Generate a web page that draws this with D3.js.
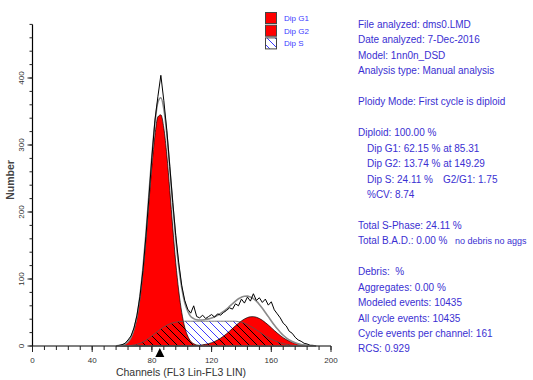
<!DOCTYPE html>
<html>
<head>
<meta charset="utf-8">
<script src="https://cdn.jsdelivr.net/npm/d3@7"></script>
<style>
body { margin: 0; background: #fff; }
svg text { font-family: "Liberation Sans", Arial, sans-serif; white-space: pre; }
</style>
</head>
<body>
<div id="chart"></div>
<script>
// channel grid (every 2 channels)
const channels = d3.range(56, 191, 2);

// Dip G1 component
const dipG1 = [0.2, 0.5, 1.1, 2.6, 5.9, 12, 24, 42, 71, 110, 159, 215, 269, 314, 342, 345, 325, 285, 232, 176,
  124, 82, 50, 28, 15, 7, 3.4, 1.5, 0.6, 0.2, 0, 0, 0, 0, 0, 0, 0, 0, 0, 0,
  0, 0, 0, 0, 0, 0, 0, 0, 0, 0, 0, 0, 0, 0, 0, 0, 0, 0, 0, 0,
  0, 0, 0, 0, 0, 0, 0, 0];

// Dip G2 component
const dipG2 = [0, 0, 0, 0, 0, 0, 0, 0, 0, 0, 0, 0, 0, 0, 0, 0, 0, 0, 0, 0,
  0, 0, 0, 0, 0, 0, 0.5, 0.7, 1.1, 1.7, 2.5, 3.5, 4.9, 6.7, 8.9, 11.6, 14.7, 18.2, 22.1, 26.1,
  30.1, 34, 37.4, 40.3, 42.4, 43.6, 43.8, 42.9, 41.1, 38.4, 35, 31.3, 27.3, 23.2, 19.3, 15.7, 12.4, 9.6, 7.3, 5.4,
  3.9, 2.7, 1.9, 1.3, 0.8, 0.5, 0.3, 0.2];

// Dip S component
const dipS = [0, 0, 0, 0.2, 0.5, 0.8, 1.5, 2.5, 4, 6, 8.5, 11.5, 15, 18.5, 22, 25.5, 28.5, 31, 33, 34.5,
  35.5, 36.3, 36.8, 37, 37, 37, 37, 37, 37, 37, 37, 37, 37, 37, 37, 37, 37, 37, 37, 37,
  37, 36.5, 35.5, 34, 32, 29.5, 27, 24, 21, 18, 15, 12.5, 10, 8, 6.3, 4.8, 3.6, 2.6, 1.8, 1.2,
  0.8, 0.5, 0.3, 0.2, 0.1, 0, 0, 0];

// measured histogram
const rawCounts = [0, 1, 2, 4, 9, 15, 27, 46, 74, 113, 164, 222, 282, 336, 372, 404, 366, 322, 268, 214,
  165, 124, 90, 68, 55, 49, 60, 44, 42, 46, 41, 44, 47, 43, 48, 46, 50, 53, 57, 55,
  63, 60, 70, 64, 73, 67, 78, 68, 72, 65, 70, 61, 66, 54, 48, 42, 34, 30, 22, 19,
  13, 9, 7, 4, 3, 1, 1, 0];

const xTicks = [0, 40, 80, 120, 160, 200];
const yTicks = [0, 100, 200, 300, 400];
const g1Mean = 85.31;

const legendItems = ["Dip G1", "Dip G2", "Dip S"];
// [text, indent, second column text]
const infoLines = [
  ["File analyzed: dms0.LMD", 0, ""],
  ["Date analyzed: 7-Dec-2016", 0, ""],
  ["Model: 1nn0n_DSD", 0, ""],
  ["Analysis type: Manual analysis", 0, ""],
  ["", 0, ""],
  ["Ploidy Mode: First cycle is diploid", 0, ""],
  ["", 0, ""],
  ["Diploid: 100.00 %", 0, ""],
  ["Dip G1: 62.15 % at 85.31", 1, ""],
  ["Dip G2: 13.74 % at 149.29", 1, ""],
  ["Dip S: 24.11 %", 1, "G2/G1: 1.75"],
  ["%CV: 8.74", 1, ""],
  ["", 0, ""],
  ["Total S-Phase: 24.11 %", 0, ""],
  ["Total B.A.D.: 0.00 %", 0, "no debris no aggs"],
  ["", 0, ""],
  ["Debris:  %", 0, ""],
  ["Aggregates: 0.00 %", 0, ""],
  ["Modeled events: 10435", 0, ""],
  ["All cycle events: 10435", 0, ""],
  ["Cycle events per channel: 161", 0, ""],
  ["RCS: 0.929", 0, ""]
];

const width = 533;
const height = 380;

const svg = d3.select("#chart")
    .append("svg")
    .attr("width", width)
    .attr("height", height);

const x = d3.scaleLinear().domain([0, 200]).range([32.5, 331]);
const y = d3.scaleLinear().domain([0, 480]).range([346, 24.4]);

const defs = svg.append("defs");

function hatch(id, color, bg) {
    const p = defs.append("pattern")
        .attr("id", id)
        .attr("patternUnits", "userSpaceOnUse")
        .attr("width", 8)
        .attr("height", 8);
    if (bg) p.append("rect").attr("width", 8).attr("height", 8).attr("fill", bg);
    p.append("path")
        .attr("d", "M0,0L8,8M-1,7L1,9M7,-1L9,1")
        .attr("stroke", color)
        .attr("stroke-width", 1);
}
hatch("hatchBlue", "#3b3bff", "#fff");
hatch("hatchBlack", "#000", null);

const area = vals => d3.area()
    .x((d, i) => x(channels[i]))
    .y0(y(0))
    .y1((d, i) => y(vals[i]))
    .curve(d3.curveMonotoneX)(vals);

const line = vals => d3.line()
    .x((d, i) => x(channels[i]))
    .y((d, i) => y(vals[i]))
    .curve(d3.curveMonotoneX)(vals);

// S phase, blue hatching on white
svg.append("path")
    .attr("d", area(dipS))
    .attr("fill", "url(#hatchBlue)");

// G1 and G2 red
[dipG1, dipG2].forEach(vals => {
    svg.append("path")
        .attr("d", area(vals))
        .attr("fill", "#ff0000")
        .attr("stroke", "#000")
        .attr("stroke-width", 0.7);
});

// S hatch over the red parts
const clip = defs.append("clipPath").attr("id", "redClip");
clip.append("path").attr("d", area(dipG1));
clip.append("path").attr("d", area(dipG2));
svg.append("path")
    .attr("d", area(dipS))
    .attr("fill", "url(#hatchBlack)")
    .attr("clip-path", "url(#redClip)");

svg.append("path")
    .attr("d", line(dipS))
    .attr("fill", "none")
    .attr("stroke", "#555")
    .attr("stroke-width", 0.8);

// model total
const modelTotal = channels.map((c, i) => dipG1[i] + dipG2[i] + dipS[i]);
svg.append("path")
    .attr("d", line(modelTotal))
    .attr("fill", "none")
    .attr("stroke", "#8a8a8a")
    .attr("stroke-width", 1.6);

// raw data
svg.append("path")
    .attr("d", d3.line()
        .x((d, i) => x(channels[i]))
        .y(d => y(d))(rawCounts))
    .attr("fill", "none")
    .attr("stroke", "#000")
    .attr("stroke-width", 1);

// x axis
const xAxis = svg.append("g").attr("transform", `translate(0,${y(0)})`);
xAxis.append("line")
    .attr("x1", x(0)).attr("x2", x(200))
    .attr("stroke", "#555").attr("stroke-width", 1.6);
xAxis.selectAll(".minor")
    .data(d3.range(0, 201, 8))
    .enter().append("line")
    .attr("x1", d => x(d)).attr("x2", d => x(d))
    .attr("y1", 0).attr("y2", 4)
    .attr("stroke", "#222");
xAxis.selectAll(".major")
    .data(xTicks)
    .enter().append("line")
    .attr("x1", d => x(d)).attr("x2", d => x(d))
    .attr("y1", 0).attr("y2", 6)
    .attr("stroke", "#222");
xAxis.selectAll("text")
    .data(xTicks)
    .enter().append("text")
    .attr("x", d => x(d))
    .attr("y", 17)
    .attr("text-anchor", "middle")
    .attr("font-size", 8)
    .attr("fill", "#333")
    .text(d => d);

// G1 marker
svg.append("path")
    .attr("d", `M${x(g1Mean)},${y(0) + 2}l-4.5,9h9z`)
    .attr("fill", "#000");

// y axis
const yAxis = svg.append("g");
yAxis.append("line")
    .attr("x1", x(0)).attr("x2", x(0))
    .attr("y1", y(0)).attr("y2", y(480))
    .attr("stroke", "#000").attr("stroke-width", 1.2);
yAxis.selectAll(".minor")
    .data(d3.range(0, 481, 20))
    .enter().append("line")
    .attr("x1", x(0) - 3).attr("x2", x(0))
    .attr("y1", d => y(d)).attr("y2", d => y(d))
    .attr("stroke", "#222");
yAxis.selectAll(".major")
    .data(yTicks)
    .enter().append("line")
    .attr("x1", x(0) - 5).attr("x2", x(0))
    .attr("y1", d => y(d)).attr("y2", d => y(d))
    .attr("stroke", "#222");
yAxis.selectAll("text")
    .data(yTicks)
    .enter().append("text")
    .attr("transform", d => `translate(24,${y(d)}) rotate(-90)`)
    .attr("text-anchor", "middle")
    .attr("font-size", 8)
    .attr("fill", "#333")
    .text(d => d);

svg.append("text")
    .attr("transform", "translate(14,180) rotate(-90)")
    .attr("text-anchor", "middle")
    .attr("font-size", 10.5)
    .attr("font-weight", "bold")
    .attr("fill", "#444")
    .text("Number");

svg.append("text")
    .attr("x", 181)
    .attr("y", 376)
    .attr("text-anchor", "middle")
    .attr("font-size", 10.5)
    .attr("fill", "#333")
    .text("Channels (FL3 Lin-FL3 LIN)");

// legend
const legend = svg.append("g").attr("transform", "translate(265,12)");
legendItems.forEach((name, i) => {
    legend.append("rect")
        .attr("x", 0.5).attr("y", i * 12.7 + 0.5)
        .attr("width", 11).attr("height", 11)
        .attr("fill", i < 2 ? "#ff0000" : "url(#hatchBlue)")
        .attr("stroke", "#444");
    legend.append("text")
        .attr("x", 19).attr("y", i * 12.7 + 9)
        .attr("font-size", 8)
        .attr("fill", "#3b3bff")
        .text(name);
});

// info panel
const info = svg.append("g").attr("font-size", 10).attr("fill", "#3a2fd2");
infoLines.forEach(([txt, indent, extra], i) => {
    const yy = 28 + i * 15.45;
    info.append("text")
        .attr("x", indent ? 367 : 358)
        .attr("y", yy)
        .text(txt);
    if (extra) {
        const isBad = txt.startsWith("Total");
        info.append("text")
            .attr("x", isBad ? 455 : 443)
            .attr("y", yy)
            .attr("font-size", isBad ? 9 : 10)
            .text(extra);
    }
});
</script>
</body>
</html>
